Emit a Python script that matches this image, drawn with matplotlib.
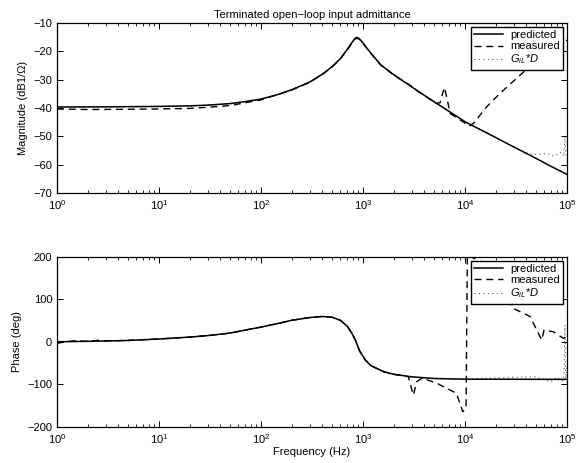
import matplotlib.pyplot as plt
from matplotlib.ticker import LogLocator, NullFormatter

plt.rcParams['font.family'] = ['Liberation Sans', 'DejaVu Sans']
plt.rcParams['font.size'] = 8
plt.rcParams['mathtext.fontset'] = 'custom'
plt.rcParams['mathtext.rm'] = 'Liberation Sans'
plt.rcParams['mathtext.it'] = 'Liberation Sans:italic'

# predicted magnitude (dB)
pred_mag_f = [1, 3, 10, 20, 30, 50, 70, 100, 150, 200, 300, 400, 500, 600, 700, 780, 830,
              870, 920, 1000, 1100, 1200, 1500, 2000, 3000, 4000, 5000, 7000, 10000,
              20000, 30000, 50000, 70000, 100000]
pred_mag = [-39.6, -39.55, -39.4, -39.2, -38.95, -38.4, -37.7, -36.8, -35.1, -33.5, -30.8,
            -28.0, -25.3, -22.5, -19.3, -16.8, -15.5, -15.0, -15.5, -17.0, -19.0, -20.7,
            -24.8, -28.2, -32.5, -35.5, -37.8, -41.2, -44.8, -50.4, -53.7, -57.8, -60.6,
            -63.4]

# measured magnitude (dB)
meas_mag_f = [1, 2, 5, 10, 20, 30, 50, 70, 100, 200, 300, 400, 500, 600, 700, 780, 830,
              870, 920, 1000, 1200, 1500, 2000, 2900, 3100, 4000, 4540, 5080, 5690, 6270,
              6700, 7130, 8600, 11000, 12070, 16330, 22030, 34600, 60000, 100000]
meas_mag = [-40.3, -40.5, -40.4, -40.3, -40.1, -39.7, -39.1, -38.1, -37.1, -33.6, -30.9,
            -28.1, -25.4, -22.6, -19.5, -17.0, -15.7, -15.3, -15.7, -17.2, -20.8, -24.9,
            -28.3, -31.9, -33.0, -35.6, -36.9, -38.4, -38.1, -32.7, -36.9, -41.9, -43.7,
            -46.4, -45.4, -39.5, -34.8, -28.4, -20.5, -16.0]

# G_iL*D magnitude (dB)
gil_mag_f = [1, 3, 10, 20, 30, 50, 70, 100, 150, 200, 300, 400, 500, 600, 700, 780, 830,
             870, 920, 1000, 1100, 1200, 1500, 2000, 3000, 4000, 5000, 7000, 10000, 20000,
             30000, 40000, 50000, 63000, 75000, 88000, 93000, 95500, 97000, 100000]
gil_mag = [-39.6, -39.55, -39.4, -39.2, -38.95, -38.4, -37.7, -36.8, -35.1, -33.5, -30.8,
           -28.0, -25.3, -22.5, -19.3, -16.8, -15.5, -15.0, -15.5, -17.0, -19.0, -20.7,
           -24.8, -28.2, -32.5, -35.5, -37.8, -41.2, -44.8, -50.4, -53.7, -55.8, -56.4,
           -56.0, -57.0, -55.5, -57.0, -50.0, -56.5, -57.0]

# predicted phase (deg)
pred_ph_f = [1, 2, 5, 10, 20, 30, 50, 70, 100, 150, 200, 300, 400, 500, 600, 700, 780,
             850, 930, 1050, 1200, 1600, 2000, 3000, 5000, 10000, 100000]
pred_ph = [0.5, 1.5, 3.5, 7, 11.5, 15, 21, 28, 35, 44, 51, 57.5, 60, 58, 51, 37, 20, 2,
           -22, -42, -56, -70, -76, -82, -86, -87.5, -88]

# measured phase (deg)
meas_ph_f = [1, 1.2, 1.5, 2, 2.5, 3, 4, 5, 10, 20, 30, 50, 70, 100, 150, 200, 300, 400,
             500, 600, 700, 780, 850, 930, 1050, 1200, 1600, 2000, 2780, 3110, 3380, 3800,
             5280, 7130, 8250, 9490, 10240, 10540, 14000, 29700, 43400, 56400, 59600,
             73500, 92000, 100000]
meas_ph = [-3, 0, 3, 1.5, 4, 2.5, 3, 4, 7, 11.5, 15, 21, 28, 35, 44, 51, 57.5, 60, 58, 51,
           37, 20, 2, -22, -42, -56, -70, -76, -81.6, -125, -93, -85, -97, -113, -121,
           -164, -156, 205, 190, 79, 60, 4.7, 28, 24, 8.6, 12.5]

# G_iL*D phase (deg)
gil_ph_f = [1, 2, 5, 10, 20, 30, 50, 70, 100, 150, 200, 300, 400, 500, 600, 700, 780, 850,
            930, 1050, 1200, 1600, 2000, 3000, 5000, 10000, 30000, 50000, 70000, 80000,
            90000, 93000, 95500, 97000, 100000]
gil_ph = [0.5, 1.5, 3.5, 7, 11.5, 15, 21, 28, 35, 44, 51, 57.5, 60, 58, 51, 37, 20, 2,
          -22, -42, -56, -70, -76, -82, -86, -87.5, -83, -82, -93, -82, -92, -88, 40, -85,
          -60]

fig = plt.figure(figsize=(5.86, 4.63), dpi=100)
ax1 = fig.add_axes([0.0973, 0.583, 0.8703, 0.367])
ax2 = fig.add_axes([0.0973, 0.0778, 0.8703, 0.3672])

dash = (0, (5, 3.5))
dots = (0, (1, 3))
for ax in (ax1, ax2):
    ax.set_xscale('log')
    ax.set_xlim(1, 1e5)
    ax.xaxis.set_major_locator(LogLocator(base=10, numticks=10))
    ax.xaxis.set_minor_locator(LogLocator(base=10, subs=range(2, 10), numticks=20))
    ax.xaxis.set_minor_formatter(NullFormatter())
    ax.tick_params(which='both', direction='in', top=True, right=True, labelsize=8)
    ax.tick_params(which='major', length=4, width=0.7)
    ax.tick_params(which='minor', length=2.5, width=0.6)
    for s in ax.spines.values():
        s.set_linewidth(0.9)

ax1.plot(gil_mag_f, gil_mag, color='#555555', lw=0.8, linestyle=dots,
         label=r'$G_{iL}$*$D$', zorder=1)
ax1.plot(pred_mag_f, pred_mag, color='black', lw=1.1, label='predicted', zorder=3)
ax1.plot(meas_mag_f, meas_mag, color='black', lw=1.0, linestyle=dash, label='measured',
         zorder=2)
ax1.set_ylim(-70, -10)
ax1.set_yticks(range(-70, -9, 10))
ax1.set_ylabel('Magnitude (dB1/Ω)')
ax1.set_title('Terminated open\u2212loop input admittance', fontsize=8, pad=4)

ax2.plot(gil_ph_f, gil_ph, color='#555555', lw=0.8, linestyle=dots,
         label=r'$G_{iL}$*$D$', zorder=1)
ax2.plot(pred_ph_f, pred_ph, color='black', lw=1.1, label='predicted', zorder=3)
ax2.plot(meas_ph_f, meas_ph, color='black', lw=1.0, linestyle=dash, label='measured',
         zorder=2)
ax2.set_ylim(-200, 200)
ax2.set_yticks(range(-200, 201, 100))
ax2.set_ylabel('Phase (deg)')
ax2.set_xlabel('Frequency (Hz)', labelpad=1)

for ax in (ax1, ax2):
    h, l = ax.get_legend_handles_labels()
    order = [1, 2, 0]
    leg = ax.legend([h[i] for i in order], [l[i] for i in order], loc='upper right',
                    fontsize=8, fancybox=False, framealpha=1, edgecolor='black',
                    borderaxespad=0.35, handlelength=2.6, labelspacing=0.1,
                    borderpad=0.3, handletextpad=0.6)
    leg.get_frame().set_linewidth(1.0)

fig.savefig('out.png', dpi=100)
